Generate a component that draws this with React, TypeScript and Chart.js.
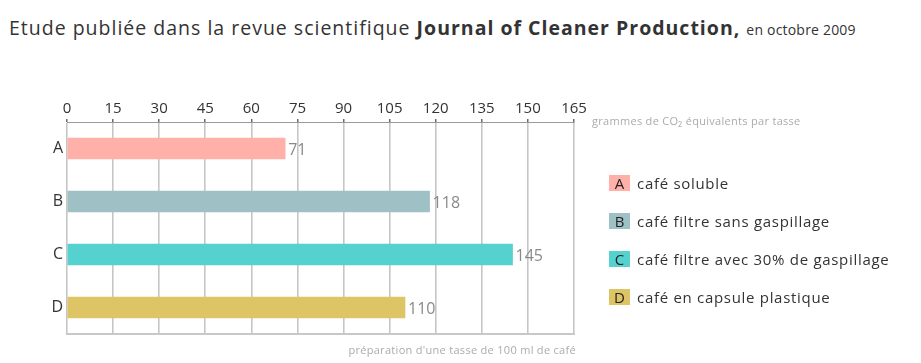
import React, { useEffect, useRef } from "react";
import { Chart, registerables } from "chart.js";

Chart.register(...registerables);

const categories = ["A", "B", "C", "D"];
const values = [71, 118, 145, 110];
const barColors = ["#FFB0A8", "#9FC0C5", "#55D2CF", "#DDC566"];
const legendLabels = [
  "café soluble",
  "café filtre sans gaspillage",
  "café filtre avec 30% de gaspillage",
  "café en capsule plastique",
];
const xMin = 0;
const xMax = 165;
const xStep = 15;

const FONT = "'Open Sans', 'Noto Sans', sans-serif";

const valueLabelPlugin = {
  id: "valueLabels",
  afterDatasetsDraw(chart: any) {
    const ctx = chart.ctx;
    const meta = chart.getDatasetMeta(0);
    ctx.save();
    ctx.font = `16px ${FONT}`;
    ctx.fillStyle = "#8a8a8a";
    ctx.textAlign = "left";
    ctx.textBaseline = "middle";
    meta.data.forEach((bar: any, i: number) => {
      ctx.fillText(String(values[i]), bar.x + 3, bar.y + 2);
    });
    ctx.restore();
  },
  afterDraw(chart: any) {
    const { ctx, chartArea } = chart;
    ctx.save();
    ctx.strokeStyle = "#c8c8c8";
    ctx.lineWidth = 2;
    ctx.beginPath();
    ctx.moveTo(chartArea.left - 1, chartArea.bottom);
    ctx.lineTo(chartArea.right + 1, chartArea.bottom);
    ctx.stroke();
    ctx.restore();
  },
};

export default function App() {
  const ref = useRef<HTMLCanvasElement>(null);

  useEffect(() => {
    if (!ref.current) return;
    const chart = new Chart(ref.current, {
      type: "bar",
      data: {
        labels: categories,
        datasets: [
          {
            data: values,
            backgroundColor: barColors,
            barThickness: 21,
            borderWidth: 0,
          },
        ],
      },
      options: {
        indexAxis: "y",
        responsive: false,
        animation: false,
        devicePixelRatio: 1,
        layout: { padding: { top: 82, left: 0, right: 347, bottom: 29 } },
        plugins: {
          legend: { display: false },
          tooltip: { enabled: false },
          title: { display: false },
        },
        scales: {
          x: {
            position: "top",
            min: xMin,
            max: xMax,
            afterFit: (s: any) => {
              s.height = 40;
            },
            ticks: {
              stepSize: xStep,
              color: "#333333",
              font: { family: FONT, size: 15 },
              padding: 1,
              maxRotation: 0,
            },
            grid: {
              color: "#c6c6c6",
              lineWidth: 1.6,
              tickLength: 3,
              tickColor: "#444444",
              tickWidth: 1.2,
            },
            border: { display: true, color: "#9a9a9a", width: 1 },
          },
          y: {
            afterFit: (s: any) => {
              s.width = 67;
            },
            ticks: {
              color: "#333333",
              font: { family: FONT, size: 16 },
              padding: 4,
            },
            grid: { display: false, drawTicks: false },
            border: { display: false },
          },
        },
      },
      plugins: [valueLabelPlugin],
    });
    return () => chart.destroy();
  }, []);

  return (
    <div
      style={{
        position: "fixed",
        left: 0,
        top: 0,
        width: 921,
        height: 363,
        background: "#ffffff",
        fontFamily: FONT,
        overflow: "hidden",
      }}
    >
      <div
        style={{
          position: "absolute",
          left: 9,
          top: 14,
          fontSize: 19.5,
          letterSpacing: 1,
          color: "#333333",
          whiteSpace: "nowrap",
          lineHeight: "28px",
        }}
      >
        Etude publiée dans la revue scientifique{" "}
        <b style={{ fontWeight: 700 }}>Journal of Cleaner Production,</b>{" "}
        <span style={{ fontSize: 14, letterSpacing: 0.2 }}>en octobre 2009</span>
      </div>
      <canvas
        ref={ref}
        width={921}
        height={363}
        style={{ position: "absolute", left: 0, top: 0, width: 921, height: 363 }}
      />
      <div
        style={{
          position: "absolute",
          left: 592,
          top: 113,
          fontSize: 11,
          letterSpacing: 0.3,
          color: "#ababab",
          whiteSpace: "nowrap",
          lineHeight: "16px",
        }}
      >
        grammes de CO₂ équivalents par tasse
      </div>
      <div
        style={{
          position: "absolute",
          right: 921 - 576,
          top: 342,
          fontSize: 11,
          letterSpacing: 0.3,
          color: "#ababab",
          whiteSpace: "nowrap",
          lineHeight: "16px",
        }}
      >
        préparation d'une tasse de 100 ml de café
      </div>
      {categories.map((c, i) => (
        <div
          key={c}
          style={{
            position: "absolute",
            left: 609,
            top: 175 + i * 38,
            height: 16,
            display: "flex",
            alignItems: "center",
            whiteSpace: "nowrap",
          }}
        >
          <span
            style={{
              display: "inline-block",
              width: 21,
              height: 16,
              background: barColors[i],
              color: "#222",
              fontSize: 15,
              lineHeight: "16px",
              textAlign: "center",
            }}
          >
            {c}
          </span>
          <span
            style={{
              marginLeft: 7,
              fontSize: 15,
              letterSpacing: 0.7,
              color: "#333",
              lineHeight: "16px",
            }}
          >
            {legendLabels[i]}
          </span>
        </div>
      ))}
    </div>
  );
}
